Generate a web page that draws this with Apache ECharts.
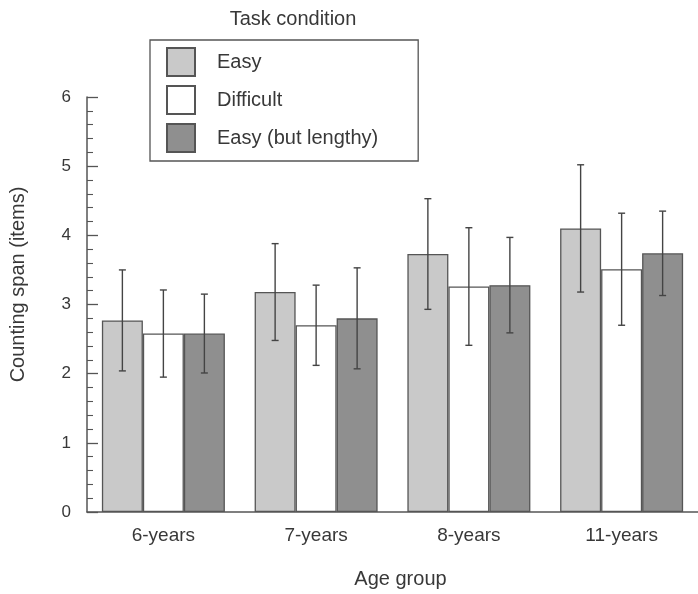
<!DOCTYPE html>
<html>
<head>
<meta charset="utf-8">
<script src="https://cdn.jsdelivr.net/npm/echarts@6/dist/echarts.min.js"></script>
<style>
  html, body { margin: 0; padding: 0; background: #ffffff; }
  #chart { width: 698px; height: 594px; }
</style>
</head>
<body>
<div id="chart"></div>
<script>
// Age groups on the x axis
const categories = ['6-years', '7-years', '8-years', '11-years'];
const conditions = ['Easy', 'Difficult', 'Easy (but lengthy)'];

// Mean counting span per condition
const easyMean = [2.77, 3.18, 3.73, 4.10];
const difficultMean = [2.58, 2.70, 3.26, 3.51];
const lengthyMean = [2.58, 2.80, 3.28, 3.74];

// Error bar half-widths (±) per condition
const easyErr = [0.73, 0.70, 0.80, 0.92];
const difficultErr = [0.63, 0.58, 0.85, 0.81];
const lengthyErr = [0.57, 0.73, 0.69, 0.61];

const yTicks = [0, 1, 2, 3, 4, 5, 6];

const BAR_W = 41;
const fills = ['#c9c9c9', '#ffffff', '#8f8f8f'];
const edge = '#555555';
const textColor = '#383838';
const font = 'Liberation Sans, Arial, sans-serif';

const means = [easyMean, difficultMean, lengthyMean];
const errs = [easyErr, difficultErr, lengthyErr];

const barSeries = conditions.map((name, k) => ({
  name: name,
  type: 'bar',
  data: means[k],
  barWidth: BAR_W,
  barGap: '0%',
  itemStyle: { color: fills[k], borderColor: edge, borderWidth: 1.3 },
  z: 2
}));

// Error bars: vertical whisker with short caps, offset to each bar's centre
const errSeries = conditions.map((name, k) => ({
  type: 'custom',
  name: name + ' error',
  silent: true,
  z: 5,
  data: categories.map((c, i) => [i, means[k][i] - errs[k][i], means[k][i] + errs[k][i]]),
  renderItem: function (params, api) {
    const i = api.value(0);
    const lo = api.coord([i, api.value(1)]);
    const hi = api.coord([i, api.value(2)]);
    const x = lo[0] + (k - 1) * BAR_W;
    const cap = 3.5;
    const style = { stroke: '#444444', lineWidth: 1.4, fill: null };
    return {
      type: 'group',
      children: [
        { type: 'line', shape: { x1: x, y1: hi[1], x2: x, y2: lo[1] }, style: style },
        { type: 'line', shape: { x1: x - cap, y1: hi[1], x2: x + cap, y2: hi[1] }, style: style },
        { type: 'line', shape: { x1: x - cap, y1: lo[1], x2: x + cap, y2: lo[1] }, style: style }
      ]
    };
  }
}));

const chart = echarts.init(document.getElementById('chart'), null, { renderer: 'canvas' });

chart.setOption({
  animation: false,
  backgroundColor: '#ffffff',
  textStyle: { fontFamily: font, color: textColor },
  title: {
    text: 'Task condition',
    left: 288,
    top: 4,
    textAlign: 'center',
    textStyle: { fontFamily: font, fontSize: 20, fontWeight: 'normal', color: textColor }
  },
  legend: {
    data: conditions,
    orient: 'vertical',
    left: 150,
    top: 40,
    padding: [7, 40, 8, 16],
    itemWidth: 28,
    itemHeight: 28,
    itemGap: 8,
    icon: 'rect',
    borderColor: '#555555',
    borderWidth: 1.3,
    selectedMode: false,
    textStyle: { fontFamily: font, fontSize: 20, color: textColor, padding: [3, 0, 0, 17] }
  },
  grid: { left: 85, top: 97, width: 616, height: 416, containLabel: false },
  xAxis: {
    type: 'category',
    data: categories,
    name: 'Age group',
    nameLocation: 'middle',
    nameGap: 57,
    nameTextStyle: { fontFamily: font, fontSize: 20, color: textColor, padding: [0, 0, 0, 16] },
    axisLine: { lineStyle: { color: edge, width: 1.5 } },
    axisTick: { show: false },
    axisLabel: { fontFamily: font, fontSize: 19, color: textColor, margin: 14 }
  },
  yAxis: {
    type: 'value',
    min: yTicks[0],
    max: yTicks[yTicks.length - 1],
    interval: 1,
    name: 'Counting span (items)',
    nameLocation: 'middle',
    nameGap: 59,
    nameTextStyle: { fontFamily: font, fontSize: 20, color: textColor, padding: [0, 0, 0, 40] },
    axisLine: { show: true, lineStyle: { color: edge, width: 1.5 } },
    axisTick: { show: true, inside: true, length: 11, lineStyle: { color: edge, width: 1.3 } },
    minorTick: { show: true, splitNumber: 5, length: 6, lineStyle: { color: edge, width: 1.1 } },
    splitLine: { show: false },
    axisLabel: { fontFamily: font, fontSize: 17, color: textColor, margin: 16 }
  },
  series: barSeries.concat(errSeries)
});
</script>
</body>
</html>
